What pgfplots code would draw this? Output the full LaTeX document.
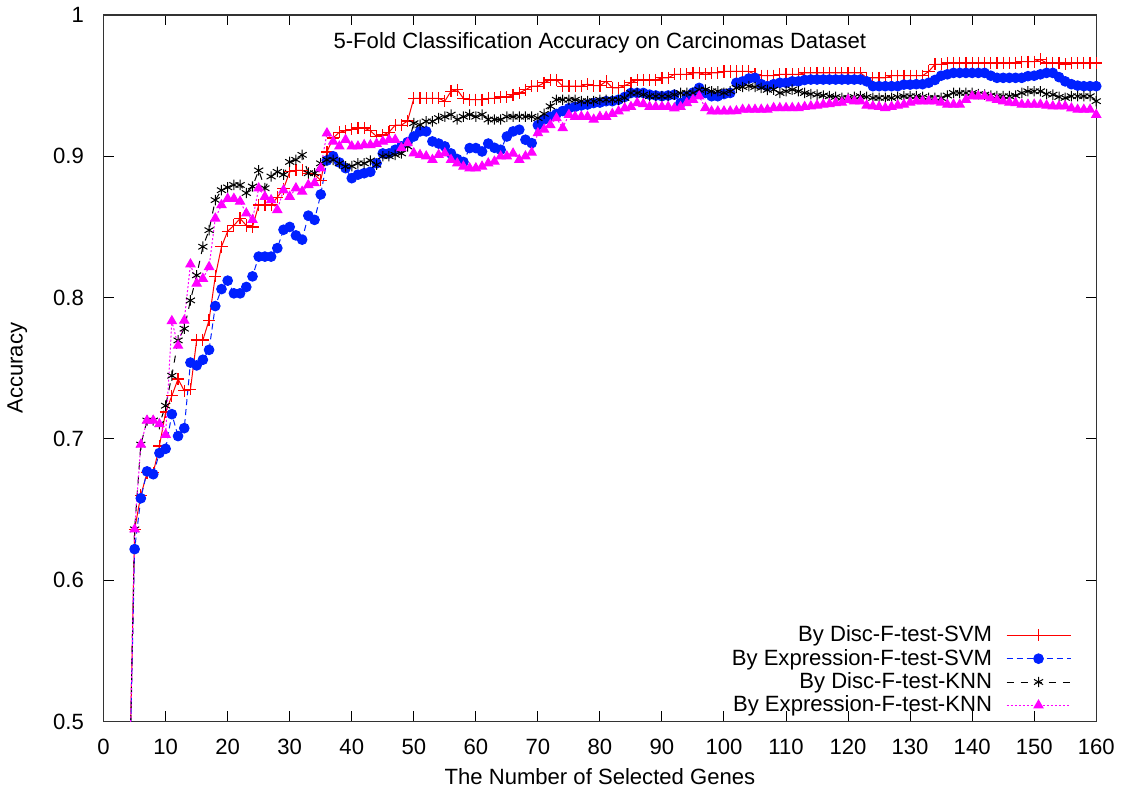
\documentclass[border=0pt]{standalone}
\usepackage{fontspec}
\setmainfont{Liberation Sans}
\usepackage{pgfplots}
\usepackage{pgfplotstable}
\pgfplotsset{compat=1.18}

\pgfplotstableread{
x y
4 0.42
5 0.636
6 0.660
7 0.676
8 0.676
9 0.695
10 0.719
11 0.7305
12 0.7424
13 0.734
14 0.735
15 0.770
16 0.770
17 0.784
18 0.815
19 0.836
20 0.847
21 0.851
22 0.856
23 0.851
24 0.850
25 0.8655
26 0.8655
27 0.8655
28 0.871
29 0.877
30 0.889
31 0.890
32 0.890
33 0.888
34 0.887
35 0.883
36 0.903
37 0.913
38 0.917
39 0.918
40 0.919
41 0.920
42 0.920
43 0.918
44 0.914
45 0.915
46 0.917
47 0.922
48 0.922
49 0.925
50 0.941
51 0.941
52 0.941
53 0.941
54 0.941
55 0.939
56 0.946
57 0.947
58 0.941
59 0.940
60 0.940
61 0.940
62 0.941
63 0.941
64 0.942
65 0.942
66 0.9436
67 0.9448
68 0.947
69 0.9496
70 0.9496
71 0.952
72 0.954
73 0.954
74 0.9496
75 0.9496
76 0.9496
77 0.9496
78 0.951
79 0.950
80 0.950
81 0.953
82 0.9484
83 0.9484
84 0.950
85 0.952
86 0.954
87 0.954
88 0.954
89 0.954
90 0.9555
91 0.9555
92 0.958
93 0.958
94 0.958
95 0.959
96 0.959
97 0.958
98 0.959
99 0.959
100 0.960
101 0.960
102 0.960
103 0.960
104 0.960
105 0.958
106 0.957
107 0.957
108 0.957
109 0.958
110 0.958
111 0.958
112 0.958
113 0.959
114 0.959
115 0.959
116 0.959
117 0.959
118 0.959
119 0.959
120 0.959
121 0.959
122 0.959
123 0.9555
124 0.9555
125 0.9555
126 0.9555
127 0.957
128 0.957
129 0.957
130 0.957
131 0.957
132 0.957
133 0.960
134 0.965
135 0.965
136 0.966
137 0.966
138 0.966
139 0.966
140 0.966
141 0.966
142 0.966
143 0.966
144 0.966
145 0.966
146 0.966
147 0.966
148 0.967
149 0.967
150 0.967
151 0.9685
152 0.966
153 0.966
154 0.966
155 0.965
156 0.966
157 0.966
158 0.966
159 0.966
160 0.966
}\discsvm

\pgfplotstableread{
x y
4 0.42
5 0.622
6 0.658
7 0.677
8 0.675
9 0.690
10 0.693
11 0.7175
12 0.702
13 0.7076
14 0.754
15 0.752
16 0.756
17 0.763
18 0.794
19 0.806
20 0.812
21 0.803
22 0.803
23 0.8075
24 0.815
25 0.829
26 0.829
27 0.829
28 0.835
29 0.848
30 0.850
31 0.844
32 0.841
33 0.858
34 0.855
35 0.873
36 0.897
37 0.900
38 0.8956
39 0.8916
40 0.8845
41 0.887
42 0.888
43 0.889
44 0.895
45 0.902
46 0.902
47 0.9046
48 0.907
49 0.910
50 0.914
51 0.9176
52 0.9176
53 0.9105
54 0.909
55 0.907
56 0.902
57 0.898
58 0.896
59 0.9058
60 0.9058
61 0.9034
62 0.909
63 0.906
64 0.9046
65 0.914
66 0.9176
67 0.9188
68 0.9117
69 0.9093
70 0.922
71 0.926
72 0.928
73 0.930
74 0.932
75 0.934
76 0.935
77 0.936
78 0.9366
79 0.9377
80 0.938
81 0.939
82 0.939
83 0.940
84 0.942
85 0.9448
86 0.9448
87 0.9448
88 0.9436
89 0.943
90 0.9425
91 0.943
92 0.9436
93 0.9377
94 0.9425
95 0.945
96 0.9484
97 0.9448
98 0.9425
99 0.9425
100 0.944
101 0.9448
102 0.952
103 0.953
104 0.955
105 0.9555
106 0.951
107 0.9496
108 0.951
109 0.952
110 0.952
111 0.953
112 0.953
113 0.954
114 0.9543
115 0.9543
116 0.9543
117 0.9543
118 0.9543
119 0.9543
120 0.9543
121 0.9543
122 0.9543
123 0.953
124 0.9496
125 0.9496
126 0.9496
127 0.9496
128 0.9496
129 0.9507
130 0.9507
131 0.951
132 0.951
133 0.952
134 0.954
135 0.957
136 0.958
137 0.959
138 0.959
139 0.959
140 0.959
141 0.959
142 0.959
143 0.957
144 0.9555
145 0.9555
146 0.9555
147 0.9555
148 0.9555
149 0.9567
150 0.957
151 0.958
152 0.959
153 0.959
154 0.956
155 0.953
156 0.951
157 0.950
158 0.9496
159 0.9496
160 0.9496
}\exprsvm

\pgfplotstableread{
x y
4 0.42
5 0.636
6 0.696
7 0.713
8 0.713
9 0.7105
10 0.7235
11 0.7447
12 0.7697
13 0.778
14 0.798
15 0.8158
16 0.836
17 0.8477
18 0.869
19 0.876
20 0.878
21 0.8797
22 0.8797
23 0.874
24 0.8786
25 0.890
26 0.8774
27 0.8857
28 0.889
29 0.887
30 0.896
31 0.8975
32 0.901
33 0.888
34 0.888
35 0.895
36 0.8975
37 0.8975
38 0.895
39 0.8928
40 0.893
41 0.895
42 0.895
43 0.897
44 0.894
45 0.900
46 0.900
47 0.901
48 0.902
49 0.907
50 0.9234
51 0.9222
52 0.9247
53 0.9247
54 0.927
55 0.928
56 0.9295
57 0.926
58 0.928
59 0.9295
60 0.928
61 0.9295
62 0.926
63 0.926
64 0.926
65 0.928
66 0.928
67 0.928
68 0.928
69 0.928
70 0.927
71 0.930
72 0.9354
73 0.940
74 0.940
75 0.940
76 0.940
77 0.939
78 0.939
79 0.939
80 0.940
81 0.940
82 0.940
83 0.940
84 0.9413
85 0.9448
86 0.9448
87 0.9436
88 0.9425
89 0.9425
90 0.9425
91 0.9425
92 0.9436
93 0.9448
94 0.9448
95 0.9448
96 0.947
97 0.9472
98 0.946
99 0.946
100 0.9448
101 0.946
102 0.9484
103 0.949
104 0.9496
105 0.949
106 0.9484
107 0.947
108 0.9472
109 0.9448
110 0.946
111 0.9472
112 0.946
113 0.9448
114 0.944
115 0.9436
116 0.943
117 0.9425
118 0.942
119 0.9413
120 0.9413
121 0.942
122 0.9425
123 0.942
124 0.9413
125 0.9413
126 0.9413
127 0.9413
128 0.942
129 0.9425
130 0.9425
131 0.9425
132 0.942
133 0.9413
134 0.9413
135 0.9413
136 0.943
137 0.9448
138 0.9448
139 0.9448
140 0.9448
141 0.944
142 0.9436
143 0.943
144 0.9425
145 0.9425
146 0.9425
147 0.943
148 0.9448
149 0.946
150 0.946
151 0.946
152 0.944
153 0.9436
154 0.942
155 0.9413
156 0.9425
157 0.9425
158 0.9425
159 0.9425
160 0.939
}\discknn

\pgfplotstableread{
x y
4 0.42
5 0.636
6 0.696
7 0.713
8 0.713
9 0.7105
10 0.703
11 0.7834
12 0.766
13 0.7838
14 0.8236
15 0.810
16 0.8134
17 0.8217
18 0.856
19 0.8655
20 0.870
21 0.870
22 0.868
23 0.8596
24 0.855
25 0.8774
26 0.8714
27 0.869
28 0.862
29 0.876
30 0.8714
31 0.8774
32 0.875
33 0.8797
34 0.881
35 0.8916
36 0.9163
37 0.9105
38 0.907
39 0.9117
40 0.907
41 0.907
42 0.908
43 0.908
44 0.9089
45 0.9105
46 0.9117
47 0.9117
48 0.9058
49 0.9093
50 0.9022
51 0.901
52 0.900
53 0.8975
54 0.901
55 0.9022
56 0.8975
57 0.895
58 0.8928
59 0.8916
60 0.8916
61 0.8928
62 0.895
63 0.8963
64 0.900
65 0.900
66 0.902
67 0.8975
68 0.900
69 0.9026
70 0.9164
71 0.919
72 0.9222
73 0.927
74 0.920
75 0.9294
76 0.928
77 0.928
78 0.928
79 0.926
80 0.928
81 0.928
82 0.930
83 0.9318
84 0.934
85 0.935
86 0.9377
87 0.937
88 0.935
89 0.935
90 0.935
91 0.935
92 0.934
93 0.935
94 0.9377
95 0.940
96 0.9425
97 0.9342
98 0.9318
99 0.9318
100 0.9318
101 0.9318
102 0.932
103 0.933
104 0.933
105 0.933
106 0.933
107 0.933
108 0.9342
109 0.9342
110 0.9342
111 0.9342
112 0.9342
113 0.935
114 0.9354
115 0.936
116 0.9366
117 0.937
118 0.9377
119 0.938
120 0.940
121 0.939
122 0.939
123 0.936
124 0.9354
125 0.935
126 0.9342
127 0.935
128 0.936
129 0.9366
130 0.938
131 0.939
132 0.939
133 0.939
134 0.939
135 0.938
136 0.9366
137 0.9366
138 0.9366
139 0.940
140 0.9425
141 0.9425
142 0.9425
143 0.941
144 0.940
145 0.939
146 0.938
147 0.9377
148 0.9366
149 0.9366
150 0.9366
151 0.9366
152 0.936
153 0.9354
154 0.9354
155 0.9354
156 0.934
157 0.933
158 0.933
159 0.933
160 0.9294
}\exprknn

\definecolor{gpred}{RGB}{255,0,0}
\definecolor{gpblue}{RGB}{0,32,255}
\definecolor{gpmag}{RGB}{255,0,255}

\begin{document}
\fontsize{11}{13.2}\selectfont
\begin{tikzpicture}
\begin{axis}[
  scale only axis,
  width=494.5pt, height=352pt,
  xmin=0, xmax=160, ymin=0.5, ymax=1,
  xtick={0,10,...,160},
  ytick={0.5,0.6,0.7,0.8,0.9,1},
  yticklabels={0.5,0.6,0.7,0.8,0.9,1},
  /pgf/number format/assume math mode=true,
  major tick length=5pt,
  tick style={black, line width=0.5pt},
  axis line style={black!80, line width=0.6pt},
  xticklabel style={yshift=-5pt},
  yticklabel style={xshift=-6pt},
  xlabel={The Number of Selected Genes},
  ylabel={Accuracy},
  xlabel style={at={(axis description cs:0.5,-0.078)}, anchor=center},
  ylabel style={at={(axis description cs:-0.087,0.5)}, anchor=center},
  legend style={draw=none, fill=none, at={(axis description cs:0.975,0.003)}, anchor=south east, row sep=-2pt, column sep=5pt, inner sep=0pt},
  legend cell align=right,
  legend plot pos=right,
  legend image code/.code={\draw[mark repeat=2,mark phase=2,#1] plot coordinates {(0cm,0cm) (0.56cm,0cm) (1.12cm,0cm)};},
]
\addplot[gpred, line width=0.5pt, mark=+, mark size=3pt, mark options={solid, line width=0.6pt}] table[x=x,y=y] {\discsvm};
\addlegendentry{By Disc-F-test-SVM}
\addplot[gpblue, line width=0.5pt, dash pattern=on 3pt off 2pt, mark=*, mark size=2.4pt, mark options={solid}] table[x=x,y=y] {\exprsvm};
\addlegendentry{By Expression-F-test-SVM}
\addplot[black, line width=0.5pt, dash pattern=on 3.5pt off 3.5pt, mark=asterisk, mark size=2.6pt, mark options={solid, line width=0.5pt}] table[x=x,y=y] {\discknn};
\addlegendentry{By Disc-F-test-KNN}
\addplot[gpmag, line width=0.5pt, dash pattern=on 1pt off 1pt, mark=triangle*, mark size=2.6pt, mark options={solid}] table[x=x,y=y] {\exprknn};
\addlegendentry{By Expression-F-test-KNN}
\node[anchor=center] at (rel axis cs:0.5,0.96) {5-Fold Classification Accuracy on Carcinomas Dataset};
\end{axis}
\end{tikzpicture}
\end{document}
